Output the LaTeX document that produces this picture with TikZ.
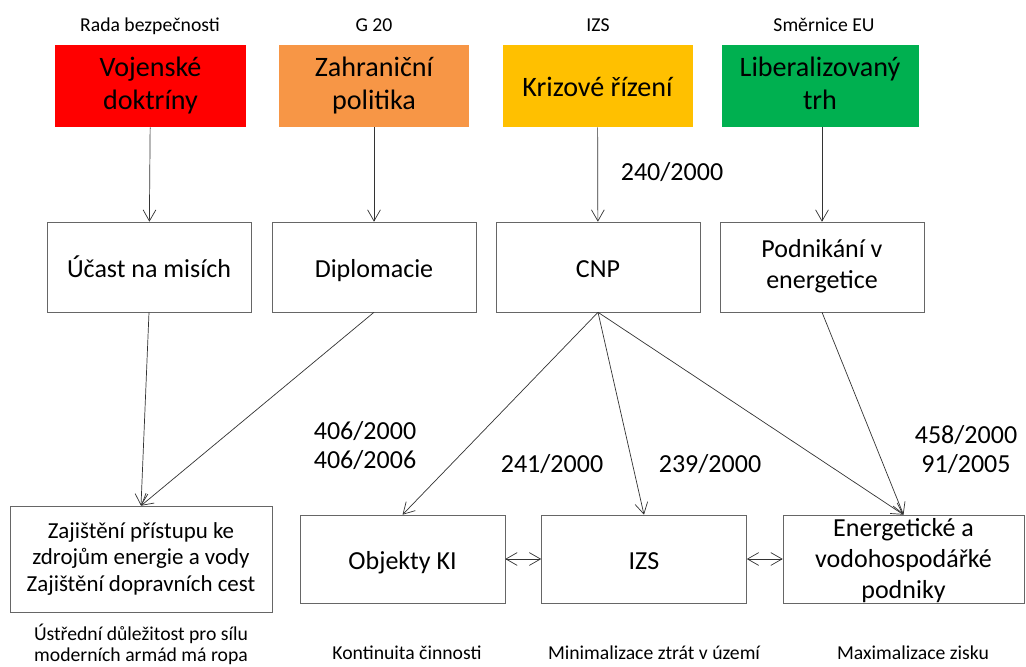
\documentclass[tikz,border=0pt]{standalone}
\usepackage{fontspec}
\setmainfont{Carlito}
\usetikzlibrary{arrows.meta}
\definecolor{doktred}{HTML}{FF0000}
\definecolor{politorange}{HTML}{F79646}
\definecolor{krizyellow}{HTML}{FFC000}
\definecolor{trhgreen}{HTML}{00B050}
\newcommand{\ystrut}{\rule[-0.17\baselineskip]{0pt}{\baselineskip}}
\begin{document}
\begin{tikzpicture}[x=0.25mm, y=-0.25mm, >={Straight Barb[length=2.8mm,width=3.2mm]},
      every node/.style={execute at begin node=\ystrut, execute at end node=\ystrut},
      head/.style={fill=#1, align=center, minimum width=47.5mm, minimum height=20.5mm, font=\fontsize{20}{23.5}\selectfont},
      rec/.style={draw=black!60, align=center, minimum width=51mm, minimum height=22.5mm, font=\fontsize{18.5}{22}\selectfont},
      low/.style={draw=black!60, align=center, minimum width=51.25mm, minimum height=22mm, font=\fontsize{18.5}{22}\selectfont},
      note/.style={align=center, font=\fontsize{14}{15}\selectfont},
      law/.style={align=center, font=\fontsize{18.5}{20.6}\selectfont},
      conn/.style={draw=black!80, line width=0.5pt}]
    \useasboundingbox (0,0) rectangle (1026,666);
    % zdroje
    \node[note] (c1) at (150,25) {Rada bezpečnosti};
    \node[note] (c2) at (374,25) {G 20};
    \node[note] (c3) at (598,25) {IZS};
    \node[note] (c4) at (824,25) {Směrnice EU};
    \node[head=doktred]     (vd) at (150.5,86) {Vojenské\\doktríny};
    \node[head=politorange] (zp) at (374,86)   {Zahraniční\\politika};
    \node[head=krizyellow]  (kr) at (597.5,86) {Krizové řízení};
    \node[head=trhgreen, minimum width=49.25mm] (lt) at (820,86) {Liberalizovaný\\trh};
    % prostredni uroven
    \node[rec] (ucast) at (149,267) {Účast na misích};
    \node[rec] (dipl)  at (374,267) {Diplomacie};
    \node[rec] (cnp)   at (598,267) {CNP};
    \node[rec] (podn)  at (822,267) {Podnikání v\\energetice};
    % spodni uroven
    \node[low, minimum width=65.5mm, minimum height=26.5mm, font=\fontsize{16.3}{18.9}\selectfont] (zaj) at (141,559)
      {Zajištění přístupu ke\\zdrojům energie a vody\\Zajištění dopravních cest};
    \node[low] (obj) at (402.5,559) {Objekty KI};
    \node[low] (izs) at (644,559) {IZS};
    \node[low, minimum width=60.25mm] (ener) at (903.5,559) {};
    \node[align=center, font=\fontsize{18.5}{22}\selectfont] (enertxt) at (903.5,561) {Energetické a\\vodohospodářké\\podniky};
    % zakony
    \node[law] (l240) at (672,171) {240/2000};
    \node[law] (l406) at (365,447) {406/2000\\406/2006};
    \node[law] (l241) at (552,463) {241/2000};
    \node[law] (l239) at (710,463) {239/2000};
    \node[law] (l458) at (966,451) {458/2000\\91/2005};
    % cile
    \node[note] (g1) at (141,645) {Ústřední důležitost pro sílu\\moderních armád má ropa};
    \node[note] (g2) at (407,653) {Kontinuita činnosti};
    \node[note] (g3) at (654,653) {Minimalizace ztrát v území};
    \node[note] (g4) at (913,653) {Maximalizace zisku};
    % sipky
    \draw[conn, ->] (vd) -- (ucast);
    \draw[conn, ->] (zp) -- (dipl);
    \draw[conn, ->] (kr) -- (cnp);
    \draw[conn, ->] (lt.south -| podn) -- (podn);
    \draw[conn, ->] (ucast.south) -- (zaj.north);
    \draw[conn, ->] (dipl.south) -- (zaj.north);
    \draw[conn, ->] (cnp.south) -- (obj.north);
    \draw[conn, ->] (cnp.south) -- (izs.north);
    \draw[conn, ->] (cnp.south) -- (ener.north);
    \draw[conn, ->] (podn.south) -- (ener.north);
    \draw[conn, <->] (obj.east) -- (izs.west);
    \draw[conn, <->] (izs.east) -- (ener.west);
  \end{tikzpicture}
\end{document}
